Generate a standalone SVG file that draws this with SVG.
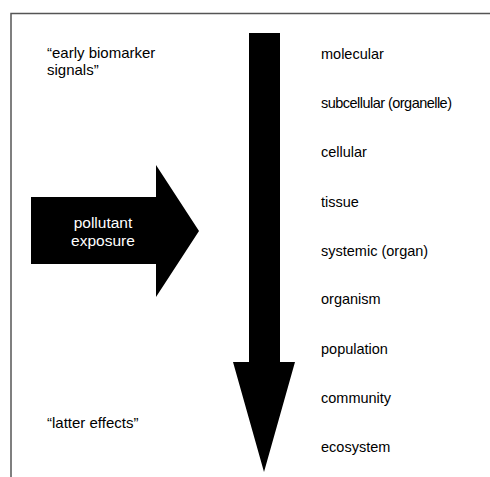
<svg xmlns="http://www.w3.org/2000/svg" width="490" height="477" viewBox="0 0 490 477">
<style>
text{font-family:"Liberation Sans",Arial,sans-serif;font-size:14.5px;fill:#000}
.l{font-size:15px}
.w{fill:#fff;text-anchor:middle;font-size:15.5px}
.frame{fill:none;stroke:#555;stroke-width:1.5}
.arrow{fill:#000;stroke:none}
</style>
<rect width="490" height="477" fill="#fff"/>
<path class="frame" d="M11,477 V13.5 H490"/>
<g id="connectors">
<polygon id="exposure-arrow" class="arrow" points="31,197 156,197 156,165 199,231 156,297 156,264 31,264"/>
<polygon id="level-arrow" class="arrow" points="249,33 280,33 280,362 295,362 264,472 233,362 249,362"/>
</g>
<g id="node-exposure"><text class="w" x="103" y="228">pollutant</text><text class="w" x="103" y="246">exposure</text></g>
<g id="node-early"><text class="l" x="47" y="58">“early biomarker</text><text class="l" x="47" y="75">signals”</text></g>
<g id="node-latter"><text class="l" x="47" y="428">“latter effects”</text></g>
<g id="node-molecular"><text x="321" y="59">molecular</text></g>
<g id="node-subcellular"><text x="321" y="108" textLength="131" lengthAdjust="spacing">subcellular (organelle)</text></g>
<g id="node-cellular"><text x="321" y="157">cellular</text></g>
<g id="node-tissue"><text x="321" y="207">tissue</text></g>
<g id="node-systemic"><text x="321" y="256">systemic (organ)</text></g>
<g id="node-organism"><text x="321" y="304">organism</text></g>
<g id="node-population"><text x="321" y="354">population</text></g>
<g id="node-community"><text x="321" y="403">community</text></g>
<g id="node-ecosystem"><text x="321" y="452">ecosystem</text></g>
</svg>
